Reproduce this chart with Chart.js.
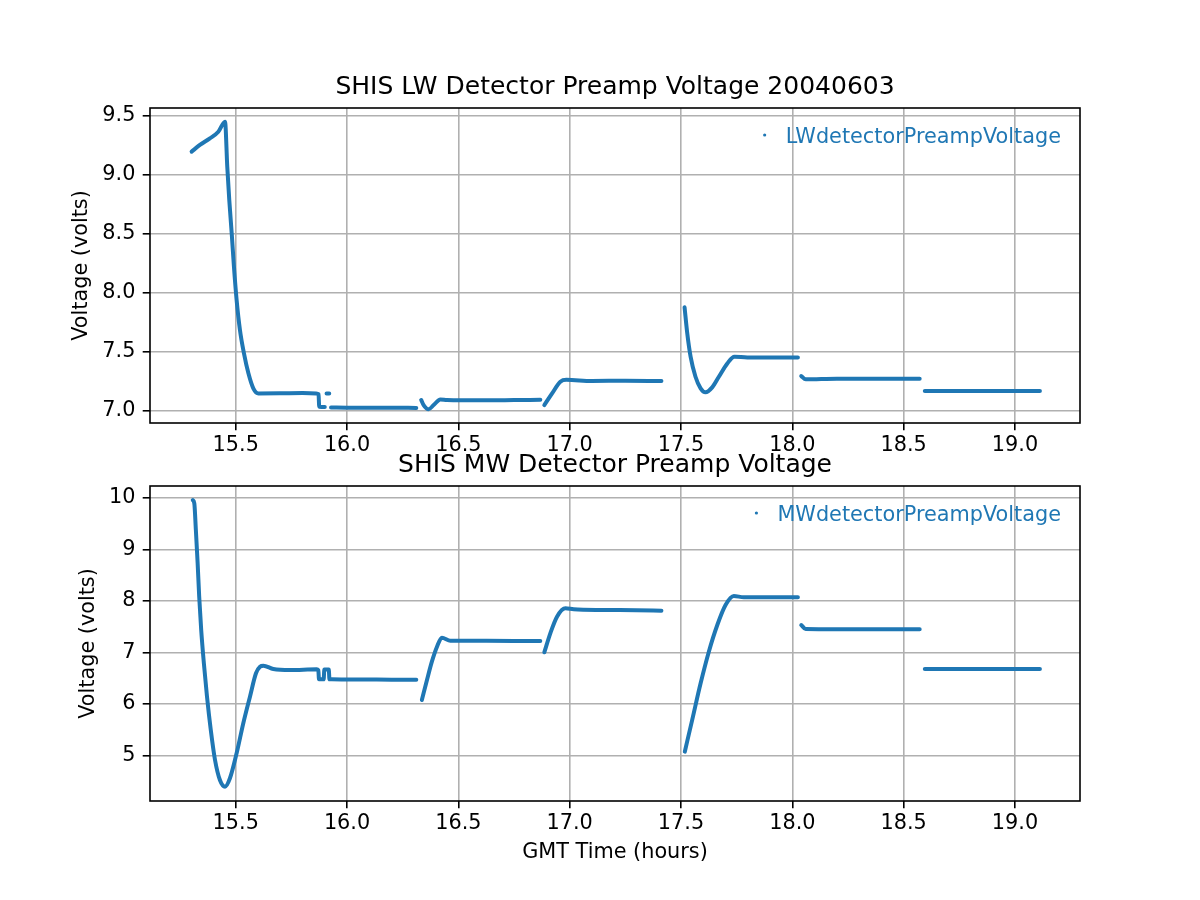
<!DOCTYPE html>
<html><head><meta charset="utf-8">
<script src="https://cdn.jsdelivr.net/npm/chart.js@4.4.1/dist/chart.umd.min.js"></script>
<style>
html,body{margin:0;padding:0;background:#fff;}
#wrap{position:relative;width:1200px;height:900px;background:#fff;}
canvas{position:absolute;left:0;top:0;}
</style></head><body>
<div id="wrap"><canvas id="mw" width="1200" height="900"></canvas><canvas id="lw" width="1200" height="900"></canvas></div>
<script>
// ---- data (null = gap between recorded segments) ----
const lwHours = [15.302, 15.339, 15.384, 15.422, 15.452, 15.462, 15.471, 15.482, 15.492, 15.504, 15.519, 15.537, 15.557, 15.579, 15.602, 15.70, 15.80, 15.862, 15.872, 15.875, 15.900, null, 15.908, 15.920, null, 15.928, 16.00, 16.10, 16.20, 16.311, null, 16.333, 16.344, 16.366, 16.389, 16.419, 16.449, 16.60, 16.75, 16.868, null, 16.886, 16.921, 16.958, 16.985, 17.10, 17.25, 17.412, null, 17.516, 17.528, 17.543, 17.565, 17.588, 17.61, 17.64, 17.67, 17.708, 17.74, 17.798, 17.90, 18.025, null, 18.04, 18.06, 18.20, 18.40, 18.572, null, 18.595, 18.80, 19.00, 19.112];
const lwVolts = [9.195, 9.252, 9.308, 9.364, 9.449, 9.068, 8.786, 8.503, 8.22, 7.938, 7.684, 7.486, 7.317, 7.19, 7.147, 7.148, 7.150, 7.147, 7.14, 7.034, 7.032, null, 7.147, 7.147, null, 7.028, 7.026, 7.025, 7.026, 7.024, null, 7.091, 7.048, 7.012, 7.048, 7.096, 7.091, 7.088, 7.090, 7.092, null, 7.048, 7.147, 7.246, 7.262, 7.252, 7.254, 7.252, null, 7.876, 7.656, 7.458, 7.288, 7.19, 7.156, 7.198, 7.288, 7.401, 7.458, 7.452, 7.452, 7.452, null, 7.294, 7.266, 7.271, 7.271, 7.271, null, 7.167, 7.167, 7.167, 7.167];

const mwHours = [15.307, 15.314, 15.321, 15.329, 15.336, 15.345, 15.357, 15.371, 15.388, 15.407, 15.429, 15.452, 15.474, 15.504, 15.534, 15.564, 15.591, 15.609, 15.624, 15.669, 15.744, 15.864, 15.871, 15.874, 15.895, 15.898, 15.918, 15.921, 15.93, 16.00, 16.10, 16.20, 16.311, null, 16.336, 16.359, 16.381, 16.404, 16.426, 16.464, 16.60, 16.75, 16.868, null, 16.886, 16.913, 16.943, 16.981, 17.018, 17.15, 17.30, 17.412, null, 17.517, 17.55, 17.588, 17.625, 17.663, 17.70, 17.737, 17.782, 17.90, 18.025, null, 18.04, 18.06, 18.20, 18.40, 18.572, null, 18.595, 18.80, 19.00, 19.112];
const mwVolts = [9.955, 9.89, 9.374, 8.729, 8.081, 7.436, 6.79, 6.144, 5.498, 4.917, 4.529, 4.40, 4.562, 5.046, 5.628, 6.144, 6.597, 6.725, 6.744, 6.68, 6.66, 6.674, 6.66, 6.48, 6.48, 6.67, 6.67, 6.48, 6.48, 6.478, 6.476, 6.474, 6.47, null, 6.08, 6.467, 6.822, 7.112, 7.287, 7.229, 7.226, 7.225, 7.224, null, 7.004, 7.372, 7.694, 7.857, 7.837, 7.824, 7.82, 7.81, null, 5.078, 5.69, 6.403, 7.016, 7.533, 7.92, 8.095, 8.07, 8.072, 8.07, null, 7.533, 7.455, 7.45, 7.45, 7.45, null, 6.68, 6.68, 6.68, 6.68];

const xTicksRange = [15.115, 19.292];
const lwRange = [6.896, 9.565];
const mwRange = [4.122, 10.227];

const lwTitle = 'SHIS LW Detector Preamp Voltage 20040603';
const mwTitle = 'SHIS MW Detector Preamp Voltage';
const lwLabel = 'LWdetectorPreampVoltage';
const mwLabel = 'MWdetectorPreampVoltage';
const yLabel = 'Voltage (volts)';
const xLabel = 'GMT Time (hours)';

// ---- rendering ----
const BLUE = '#1f77b4';
const FONT = 'DejaVu Sans';
Chart.defaults.font.family = FONT;
Chart.defaults.color = '#000';

function toPoints(hs, vs) {
  return hs.map((h, i) => ({ x: h === null ? hs[i - 1] : h, y: vs[i] }));
}

const frameLegend = {
  id: 'frameLegend',
  afterDraw(chart, args, o) {
    const { ctx, chartArea: a } = chart;
    ctx.save();
    ctx.strokeStyle = '#000';
    ctx.lineWidth = 1.6;
    ctx.strokeRect(a.left, a.top, a.right - a.left, a.bottom - a.top);
    ctx.font = '20.8px "' + FONT + '"';
    ctx.fillStyle = BLUE;
    ctx.textAlign = 'right';
    ctx.textBaseline = 'alphabetic';
    const tx = a.right - 19, ty = a.top + 35;
    ctx.fillText(o.text, tx, ty);
    const w = ctx.measureText(o.text).width;
    ctx.beginPath();
    ctx.arc(tx - w - 21, a.top + 27, 1.6, 0, Math.PI * 2);
    ctx.fill();
    ctx.restore();
  }
};

function makeChart(id, cfg) {
  const gridOpts = { color: '#b0b0b0', lineWidth: 1.6, tickColor: '#000', tickWidth: 1.6, tickLength: 7.3 };
  return new Chart(document.getElementById(id), {
    type: 'line',
    data: {
      datasets: [{
        label: cfg.legend,
        data: toPoints(cfg.hours, cfg.volts),
        borderColor: BLUE,
        backgroundColor: BLUE,
        borderWidth: 4,
        borderCapStyle: 'round',
        borderJoinStyle: 'round',
        pointRadius: 0,
        cubicInterpolationMode: 'monotone',
        spanGaps: false,
        fill: false
      }]
    },
    options: {
      responsive: false,
      animation: false,
      devicePixelRatio: 1,
      events: [],
      layout: { padding: { left: 0, right: 120, top: 0, bottom: 0 } },
      plugins: {
        legend: { display: false },
        tooltip: { enabled: false },
        title: {
          display: true, text: cfg.title, fullSize: false, color: '#000',
          font: { family: FONT, size: 25, weight: 'normal', lineHeight: 1.2 },
          padding: { top: cfg.titleTop, bottom: 5.3 }
        },
        frameLegend: { text: cfg.legend }
      },
      scales: {
        x: {
          type: 'linear', position: 'bottom',
          min: xTicksRange[0], max: xTicksRange[1],
          border: { display: false },
          grid: gridOpts,
          ticks: {
            stepSize: 0.5, includeBounds: false, autoSkip: false, maxRotation: 0, padding: 3.2,
            font: { size: 20.8 }, color: '#000',
            callback: v => Number(v).toFixed(1)
          },
          title: cfg.xTitle ? {
            display: true, text: xLabel, color: '#000',
            font: { size: 20.8, lineHeight: 1.2 }, padding: { top: 0, bottom: 34.7 }
          } : { display: false },
          afterFit: s => { s.height = cfg.xHeight; }
        },
        y: {
          type: 'linear', position: 'left',
          min: cfg.yRange[0], max: cfg.yRange[1],
          border: { display: false },
          grid: gridOpts,
          ticks: {
            stepSize: cfg.yStep, includeBounds: false, autoSkip: false, padding: 7.3,
            font: { size: 20.8 }, color: '#000',
            callback: cfg.yFmt
          },
          title: {
            display: true, text: yLabel, color: '#000',
            font: { size: 20.8, lineHeight: 1.2 }, padding: { top: cfg.yTitlePad, bottom: 0 }
          },
          afterFit: s => { s.width = 150; }
        }
      }
    },
    plugins: [frameLegend]
  });
}

makeChart('lw', {
  hours: lwHours, volts: lwVolts, legend: lwLabel, title: lwTitle,
  titleTop: 72.7, xHeight: 900 - 423, xTitle: false,
  yRange: lwRange, yStep: 0.5, yFmt: v => Number(v).toFixed(1), yTitlePad: 69.3
});
makeChart('mw', {
  hours: mwHours, volts: mwVolts, legend: mwLabel, title: mwTitle,
  titleTop: 450.7, xHeight: 900 - 801, xTitle: true,
  yRange: mwRange, yStep: 1, yFmt: v => String(Math.round(v)), yTitlePad: 76
});
</script>
</body></html>
